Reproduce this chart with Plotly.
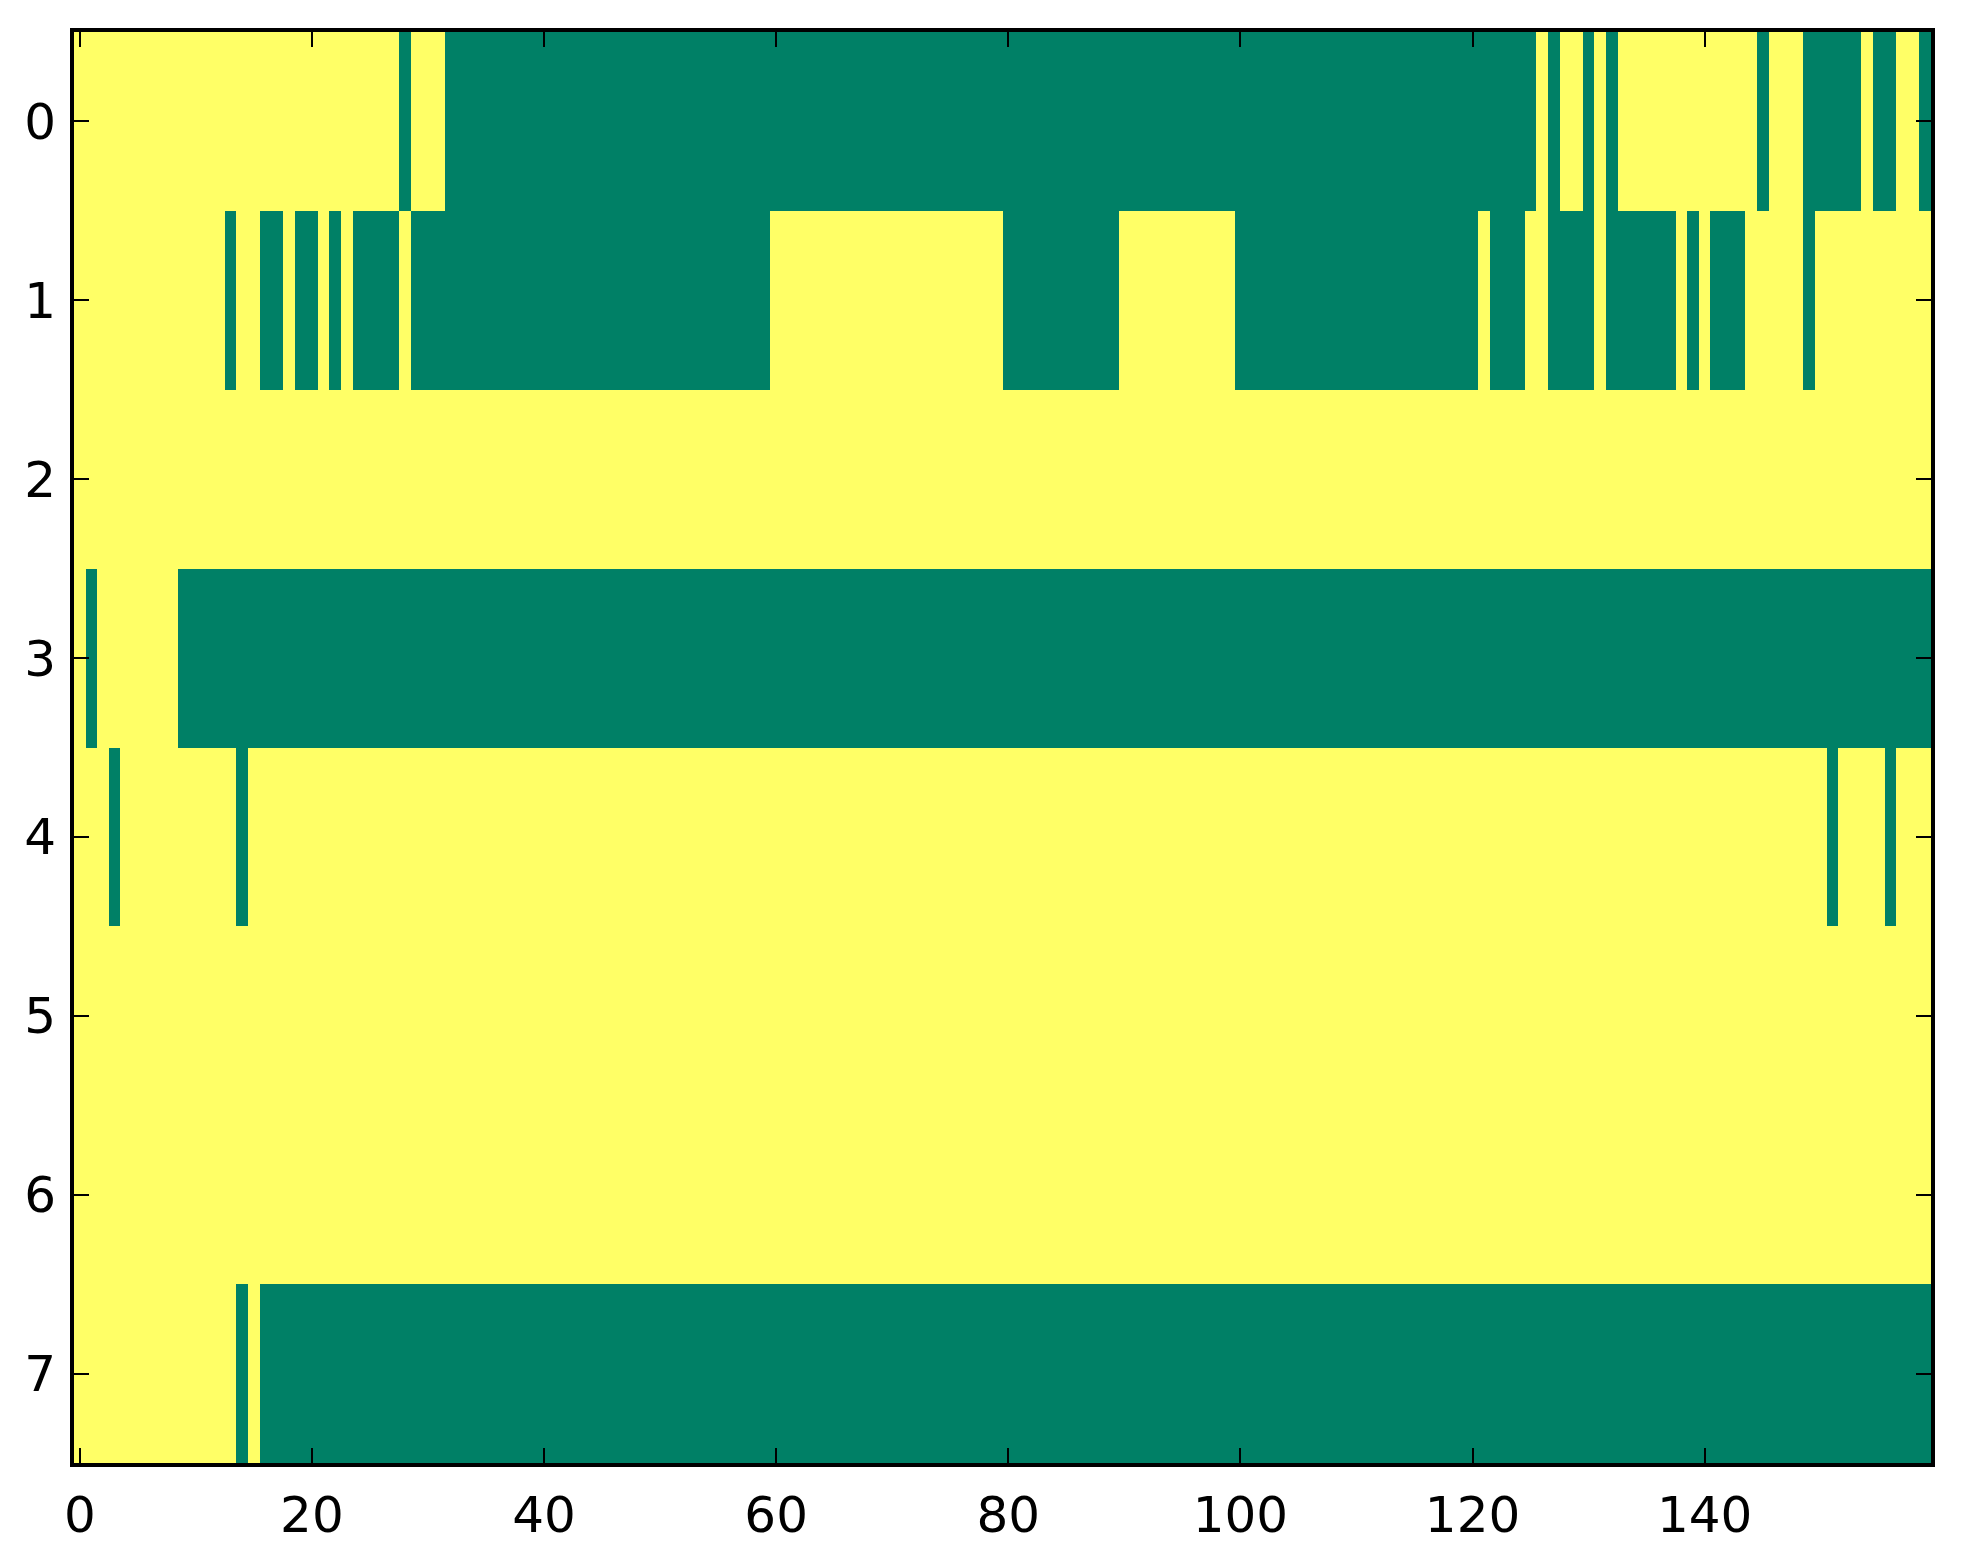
import numpy as np
import plotly.graph_objects as go

# 8 rows x 160 columns, binary image; green runs (start, end inclusive)
n_rows = 8
n_cols = 160

row0_green = [(28, 28), (32, 125), (127, 127), (130, 130), (132, 132), (145, 145),
              (149, 153), (155, 156), (159, 159)]
row1_green = [(13, 13), (16, 17), (19, 20), (22, 22), (24, 27), (29, 59), (80, 89),
              (100, 120), (122, 124), (127, 130), (132, 137), (139, 139), (141, 143),
              (149, 149)]
row2_green = []
row3_green = [(1, 1), (9, 159)]
row4_green = [(3, 3), (14, 14), (151, 151), (156, 156)]
row5_green = []
row6_green = []
row7_green = [(14, 14), (16, 159)]

rows_green = [row0_green, row1_green, row2_green, row3_green,
              row4_green, row5_green, row6_green, row7_green]

x_ticks = [0, 20, 40, 60, 80, 100, 120, 140]
y_ticks = [0, 1, 2, 3, 4, 5, 6, 7]

# matplotlib "summer" endpoints
yellow = "rgb(255,255,102)"
green = "rgb(0,128,102)"

z = np.zeros((n_rows, n_cols))
for r, runs in enumerate(rows_green):
    for a, b in runs:
        z[r, a:b + 1] = 1

fig = go.Figure(go.Heatmap(
    z=z,
    x=list(range(n_cols)),
    y=list(range(n_rows)),
    colorscale=[[0, yellow], [0.5, yellow], [0.5, green], [1, green]],
    zmin=0, zmax=1,
    showscale=False,
    hoverinfo="skip",
))

axis_style = dict(
    showline=True, linecolor="black", linewidth=4, mirror="allticks",
    ticks="inside", ticklen=15, tickwidth=2, tickcolor="black",
    showgrid=False, zeroline=False,
    tickfont=dict(family="DejaVu Sans", size=50, color="black"),
)

fig.update_xaxes(range=[-0.5, n_cols - 0.5], tickvals=x_ticks,
                 ticklabelstandoff=5, **axis_style)
fig.update_yaxes(range=[n_rows - 0.5, -0.5], tickvals=y_ticks,
                 ticklabelstandoff=4, **axis_style)

# page body has an 8px margin, so the figure is a little smaller than the window
fig.update_layout(
    width=1947, height=1548,
    margin=dict(l=66, r=24, t=24, b=84),
    paper_bgcolor="white", plot_bgcolor="white",
)

fig.write_html("out.html")
